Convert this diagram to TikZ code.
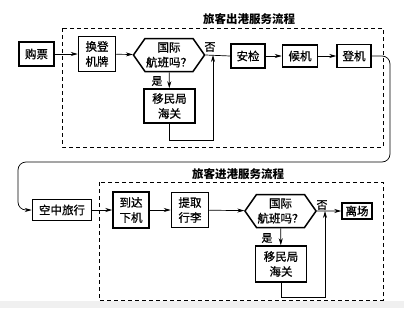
\documentclass[tikz,border=0pt]{standalone}
\usepackage{fontspec}
\setmainfont{Noto Sans CJK SC}
\newfontfamily\boxfont{Noto Sans CJK SC}[FakeBold=0.8]
\usetikzlibrary{shapes.symbols,arrows.meta}

\begin{document}
\begin{tikzpicture}[x=1pt,y=-1pt,line width=0.7pt,
  box/.style={draw,line width=1.5pt,align=center,inner sep=0pt,
    font=\fontsize{11.5}{15}\boxfont},
  hexa/.style={draw,line width=1.5pt,shape=signal,signal to=west and east,
    signal pointer angle=110,align=center,inner sep=1pt,
    minimum width=62pt,minimum height=33pt,font=\fontsize{11.5}{15}\boxfont},
  arr/.style={-{Stealth[length=7pt,width=4pt]}},
  frame/.style={dashed,dash pattern=on 4pt off 3pt,line width=0.9pt},
  title/.style={font=\fontsize{11.5}{14}\selectfont\bfseries},
  lbl/.style={font=\fontsize{11}{13}\boxfont,inner sep=0pt}]
\useasboundingbox (0,0) rectangle (404,308);
\fill[black!6] (0,301) rectangle (404,308);

% outbound
\node[title] (tout) at (249,19) {旅客出港服务流程};
\draw[frame] (62,28) rectangle (383,147);
\node[box,minimum width=35pt,minimum height=24pt] (gp) at (36.5,54) {购票};
\node[box,minimum width=37pt,minimum height=35pt] (hdj) at (97,54) {换登\\机牌};
\node[hexa] (gj1) at (169,55) {国际\\航班吗？};
\node[box,minimum width=51pt,minimum height=34pt] (ymj1) at (169.5,106) {移民局\\海关};
\node[box,minimum width=34pt,minimum height=24pt] (aj) at (248,56) {安检};
\node[box,minimum width=35pt,minimum height=22pt] (hj) at (300,56) {候机};
\node[box,minimum width=34pt,minimum height=23pt] (dj) at (354,56) {登机};
\node[lbl] (s1) at (157,81) {是};
\node[lbl] (f1) at (210,47) {否};
\coordinate (m1) at (213,55);

\draw[arr] (gp) -- (hdj);
\draw[arr] (hdj) -- (gj1);
\draw[arr] (gj1) -- (ymj1);
\draw (gj1.east) -- (aj.west);
\draw[arr] (ymj1.south) -- (ymj1.south |- 0,140) -| (m1);
\draw[arr] (aj) -- (hj);
\draw[arr] (hj) -- (dj);

% air travel
\node[box,minimum width=59pt,minimum height=21pt] (kz) at (62,210) {空中旅行};
\draw[arr,rounded corners=8pt] (dj.east) -- (390,56) -- (390,162) -- (18,162)
  -- (18,210) -- (kz.west);

% inbound
\node[title] (tin) at (238,174) {旅客进港服务流程};
\draw[frame] (99,182) rectangle (383,300);
\node[box,minimum width=36pt,minimum height=36pt] (dd) at (131,210) {到达\\下机};
\node[box,minimum width=37pt,minimum height=35pt] (tq) at (190,210) {提取\\行李};
\node[hexa] (gj2) at (280.5,211) {国际\\航班吗？};
\node[box,minimum width=30pt,minimum height=16pt] (lc) at (357,211) {离场};
\node[box,minimum width=51pt,minimum height=36pt] (ymj2) at (281,264) {移民局\\海关};
\node[lbl] (s2) at (267,238) {是};
\node[lbl] (f2) at (322,205) {否};
\coordinate (m2) at (325,211);

\draw[arr] (kz) -- (dd);
\draw[arr] (dd) -- (tq);
\draw[arr] (tq) -- (gj2);
\draw[arr] (gj2) -- (ymj2);
\draw[arr] (gj2) -- (lc);
\draw[arr] (ymj2.south) -- (ymj2.south |- 0,297) -| (m2);
\end{tikzpicture}
\end{document}
